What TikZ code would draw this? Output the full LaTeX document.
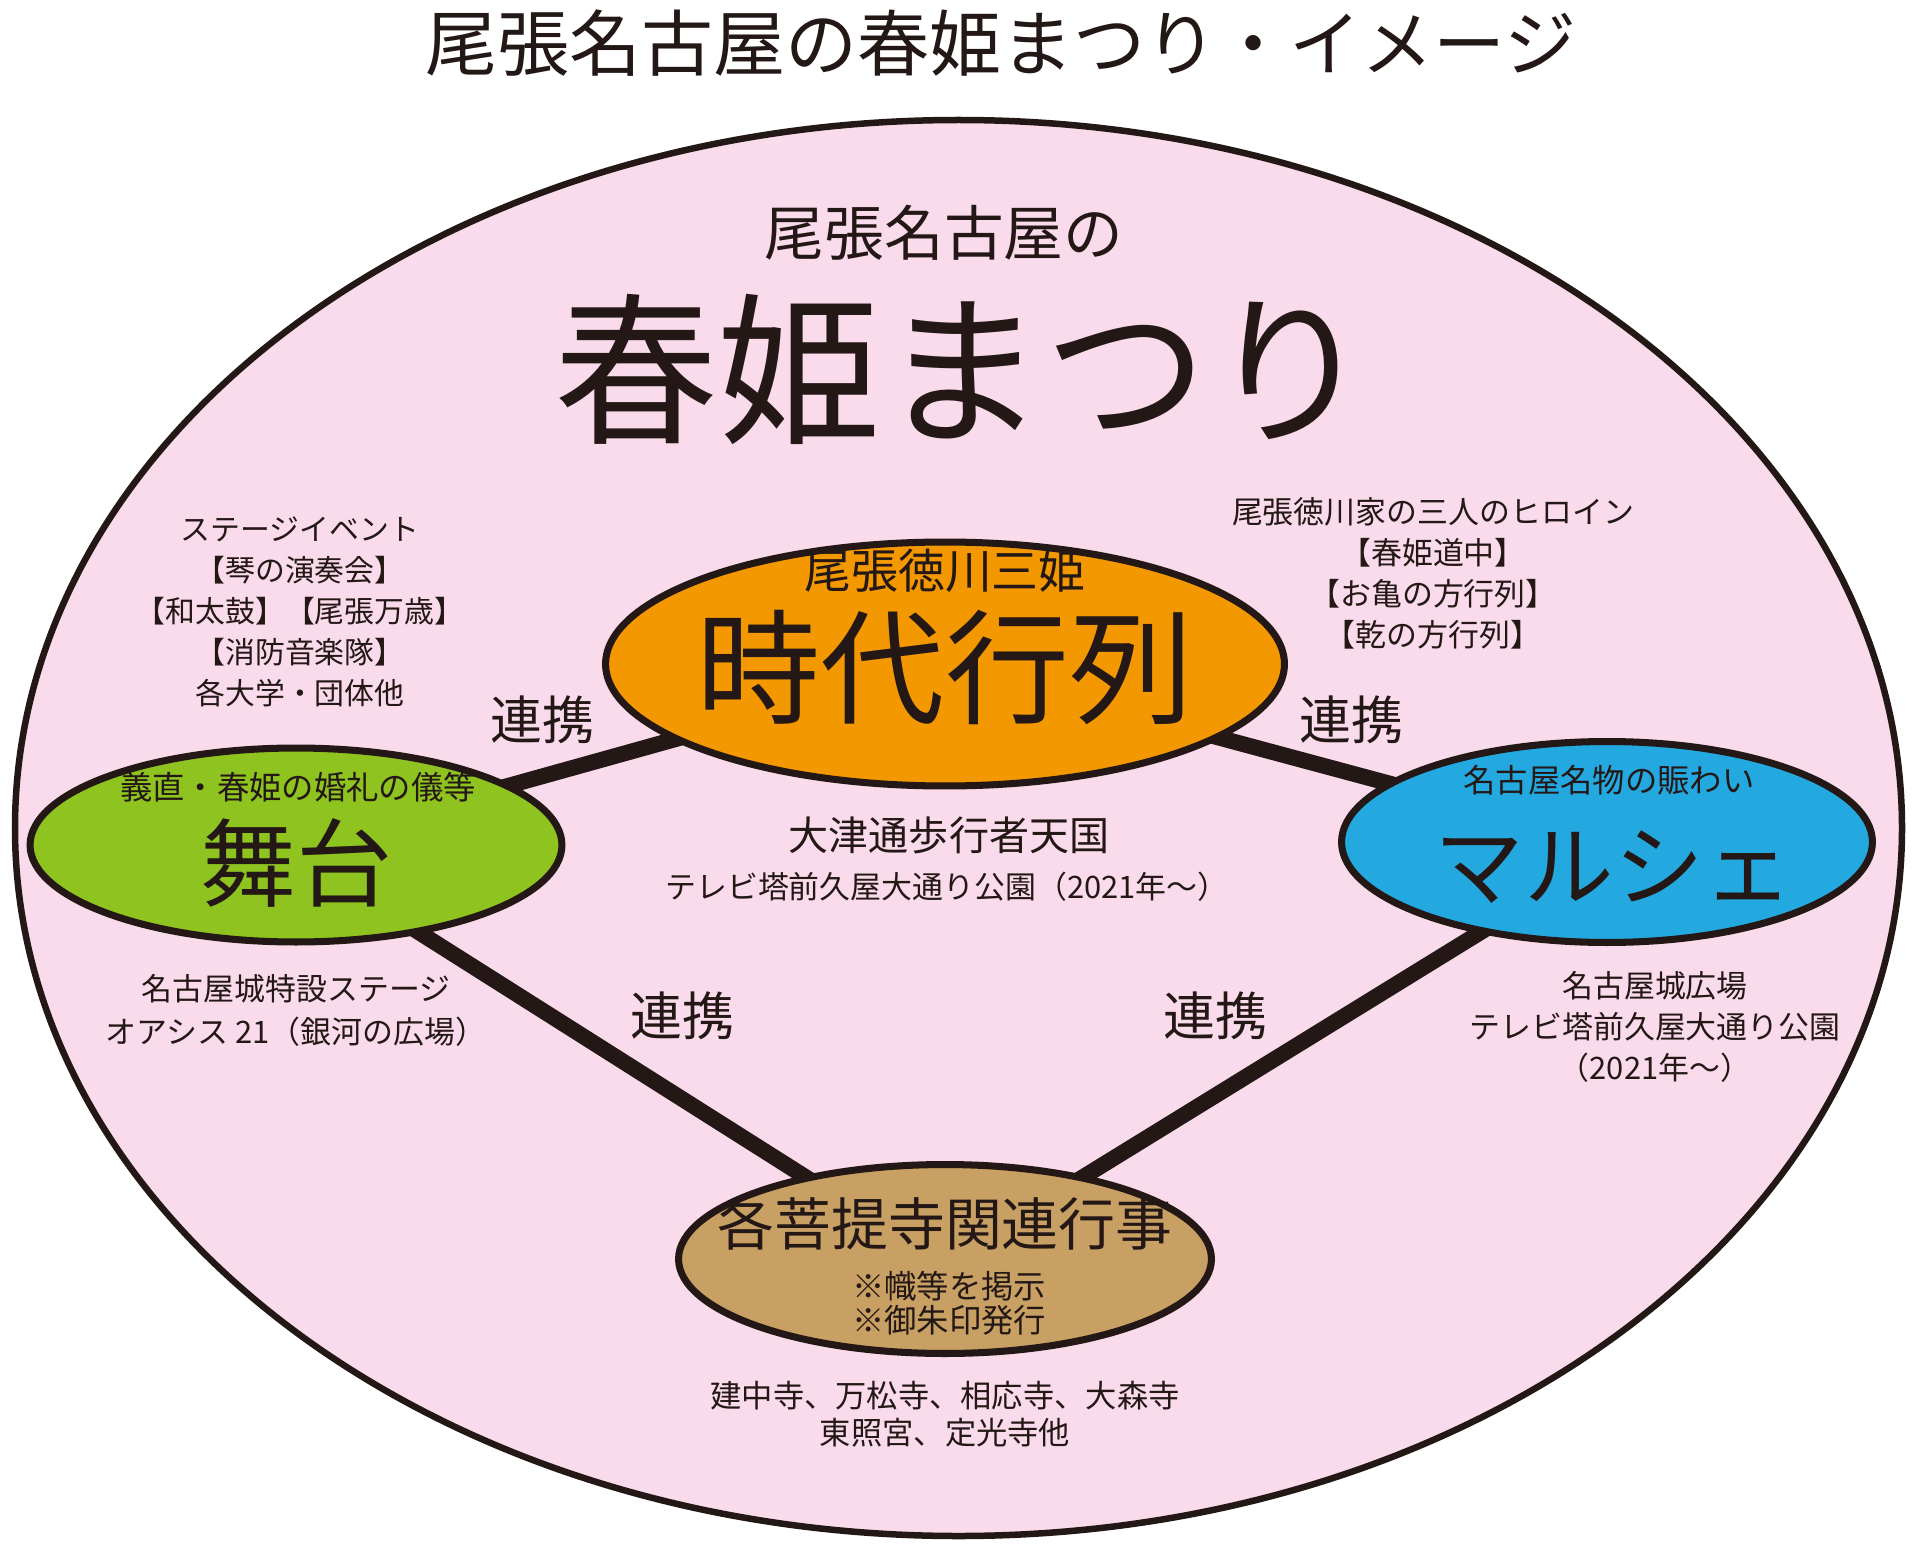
\documentclass[tikz,border=0pt]{standalone}
\usepackage{fontspec}
\setmainfont{Noto Sans CJK JP}
\usetikzlibrary{shapes.geometric}
\definecolor{inkDark}{RGB}{35,24,21}
\definecolor{sakuraPink}{RGB}{250,219,235}
\definecolor{paradeOrange}{RGB}{243,152,0}
\definecolor{stageGreen}{RGB}{143,195,31}
\definecolor{marcheBlue}{RGB}{35,168,224}
\definecolor{templeTan}{RGB}{201,160,99}
\pgfdeclarelayer{bg}
\pgfdeclarelayer{links}
\pgfsetlayers{bg,links,main}
\begin{document}
\begin{tikzpicture}[x=0.02cm, y=-0.02cm,
    blob/.style={ellipse, draw=inkDark, line width=4pt, inner sep=0pt},
    link/.style={draw=inkDark, line width=9pt},
    note/.style={align=center, inner sep=0pt, text=inkDark, font=\fontsize{17.6}{23.3}\selectfont},
    big/.style={inner sep=0pt, text=inkDark}]
    \useasboundingbox (0,0) rectangle (1920,1551);

    \node[big, font=\fontsize{41}{41}\selectfont] (title) at (1001,43) {尾張名古屋の春姫まつり・イメージ};

    \begin{pgfonlayer}{bg}
        \draw[inkDark, fill=sakuraPink, line width=3.7pt] (958.5,828) ellipse [x radius=943.5, y radius=708];
    \end{pgfonlayer}

    \node[big, font=\fontsize{34}{34}\selectfont] (sub) at (944,233) {尾張名古屋の};
    \node[big, font=\fontsize{93}{93}\selectfont] (fest) at (963,369) {春姫まつり};

    \node[blob, fill=paradeOrange, minimum width=13.58cm, minimum height=4.88cm] (parade) at (945,664) {};
    \node[blob, fill=stageGreen, minimum width=10.64cm, minimum height=3.88cm] (stage) at (296,845) {};
    \node[blob, fill=marcheBlue, minimum width=10.62cm, minimum height=4.02cm] (marche) at (1607,842) {};
    \node[blob, fill=templeTan, minimum width=10.66cm, minimum height=3.78cm] (temple) at (945,1259) {};

    \node[big, font=\fontsize{26.7}{26.7}\selectfont] (paradeSub) at (945,571) {尾張徳川三姫};
    \node[big, font=\fontsize{70.6}{70.6}\selectfont] (paradeName) at (945,667) {時代行列};
    \node[big, font=\fontsize{18.4}{18.4}\selectfont] (stageSub) at (298,787) {義直・春姫の婚礼の儀等};
    \node[big, font=\fontsize{54.6}{54.6}\selectfont] (stageName) at (296,863) {舞台};
    \node[big, font=\fontsize{18.4}{18.4}\selectfont] (marcheSub) at (1609,780) {名古屋名物の賑わい};
    \node[big, font=\fontsize{51}{51}\selectfont] (marcheName) at (1614,867) {マルシェ};
    \node[big, font=\fontsize{32.4}{32.4}\selectfont] (templeName) at (945,1224) {各菩提寺関連行事};
    \node[note, font=\fontsize{18.4}{19.4}\selectfont] (templeSub) at (949,1303) {※幟等を掲示\\※御朱印発行};

    \begin{pgfonlayer}{links}
        \path[link] (stage.center) edge (parade.center);
        \path[link] (parade.center) edge (marche.center);
        \path[link] ([xshift=-0.3cm]stage.center) edge ([xshift=-0.2cm]temple.center);
        \path[link] ([xshift=0.4cm]marche.center) edge ([xshift=0.1cm]temple.center);
    \end{pgfonlayer}

    \node[big, font=\fontsize{29.6}{29.6}\selectfont] (tie1) at (542,720) {連携};
    \node[big, font=\fontsize{29.6}{29.6}\selectfont] (tie2) at (1351,720) {連携};
    \node[big, font=\fontsize{29.6}{29.6}\selectfont] (tie3) at (682,1016) {連携};
    \node[big, font=\fontsize{29.6}{29.6}\selectfont] (tie4) at (1215,1016) {連携};

    \node[note, font=\fontsize{17}{23.3}\selectfont] (stageEvents) at (300,612) {ステージイベント\\【琴の演奏会】\\【和太鼓】【尾張万歳】\\【消防音楽隊】\\各大学・団体他};
    \node[note] (heroines) at (1433,573) {尾張徳川家の三人のヒロイン\\【春姫道中】\\【お亀の方行列】\\【乾の方行列】};
    \node[big, font=\fontsize{22.8}{22.8}\selectfont] (otsu) at (949,835) {大津通歩行者天国};
    \node[note] (hisaya) at (947,887) {テレビ塔前久屋大通り公園（2021年～）};
    \node[note, font=\fontsize{17.6}{24.5}\selectfont] (stagePlace) at (296,1010) {名古屋城特設ステージ\\オアシス 21（銀河の広場）};
    \node[note] (marchePlace) at (1655,1027) {名古屋城広場\\テレビ塔前久屋大通り公園\\（2021年～）};
    \node[note, font=\fontsize{17.8}{21}\selectfont] (temples) at (945,1414) {建中寺、万松寺、相応寺、大森寺\\東照宮、定光寺他};
\end{tikzpicture}
\end{document}
